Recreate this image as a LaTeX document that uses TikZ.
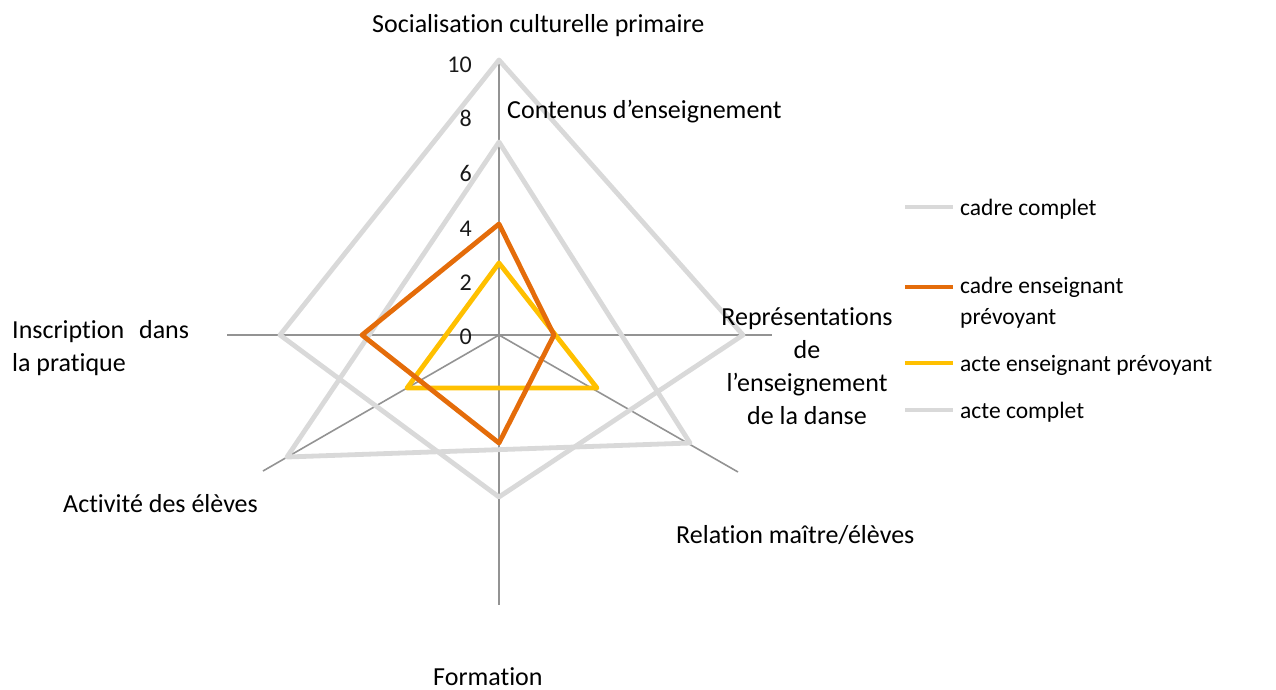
\documentclass[tikz,border=0pt]{standalone}
\usepackage{fontspec}
\setmainfont[Ligatures=NoCommon]{Carlito}
\definecolor{axisgray}{HTML}{939393}
\definecolor{palegray}{HTML}{D9D9D9}
\definecolor{cadreorange}{HTML}{E46C0A}
\definecolor{acteyellow}{HTML}{FFC000}
\begin{document}
\begin{tikzpicture}[x=1pt,y=-1pt,
  axe/.style={axisgray,line width=1.6pt},
  serie/.style={line width=4.8pt,line join=round},
  lab/.style={font=\fontsize{26}{33}\selectfont,inner sep=0pt},
  tick/.style={font=\fontsize{24}{28}\selectfont,inner sep=0pt,anchor=base east,text=black!90},
  leg/.style={font=\fontsize{23.5}{31}\selectfont,inner sep=0pt,align=left}]
\useasboundingbox (0,0) rectangle (1276,689);

\coordinate (c) at (499,335);
\coordinate (a1) at (499,58);
\coordinate (a2) at (772,335);
\coordinate (a3) at (738,472);
\coordinate (a4) at (499,605);
\coordinate (a5) at (263,471);
\coordinate (a6) at (227,335);
\draw[axe] (c) -- (a1);
\draw[axe] (c) -- (a2);
\draw[axe] (c) -- (a3);
\draw[axe] (c) -- (a4);
\draw[axe] (c) -- (a5);
\draw[axe] (c) -- (a6);

\draw[serie,palegray] (499,60) -- (743,335) -- (499,497) -- (280,335) -- cycle;
\draw[serie,palegray] (499,142) -- (690,443) -- (287,457) -- cycle;
\draw[serie,acteyellow] (499,263) -- (597,388) -- (407,388) -- cycle;
\draw[serie,cadreorange] (499,224) -- (554,335) -- (499,443) -- (362,335) -- cycle;

\node[tick] (t10) at (472,72) {10};
\node[tick] (t8) at (472,126) {8};
\node[tick] (t6) at (472,181) {6};
\node[tick] (t4) at (472,236) {4};
\node[tick] (t2) at (472,290) {2};
\node[tick] (t0) at (472,344) {0};

\node[lab,anchor=base west] (socialisation) at (372,32) {Socialisation culturelle primaire};
\node[lab,anchor=base west] (contenus) at (507,118) {Contenus d’enseignement};
\node[lab,anchor=north,align=center] (representations) at (807,307) {Représentations\\de\\l’enseignement\\de la danse};
\node[lab,anchor=north west,align=left] (inscription) at (12,320) {Inscription\hspace{15pt}dans\\la pratique};
\node[lab,anchor=base west] (activite) at (63,512) {Activité des élèves};
\node[lab,anchor=base west] (relation) at (676,543) {Relation maître/élèves};
\node[lab,anchor=base west] (formation) at (433,685) {Formation};

\coordinate (l1a) at (905,207);
\coordinate (l1b) at (953,207);
\coordinate (l2a) at (905,287);
\coordinate (l2b) at (953,287);
\coordinate (l3a) at (905,363);
\coordinate (l3b) at (953,363);
\coordinate (l4a) at (905,410);
\coordinate (l4b) at (953,410);
\draw[serie,palegray] (l1a) -- (l1b);
\draw[serie,cadreorange] (l2a) -- (l2b);
\draw[serie,acteyellow] (l3a) -- (l3b);
\draw[serie,palegray] (l4a) -- (l4b);
\node[leg,anchor=base west] (cadrecomplet) at (960,215) {cadre complet};
\node[leg,anchor=north west] (cadreens) at (960,277) {cadre enseignant\\prévoyant};
\node[leg,anchor=base west] (acteens) at (960,371) {acte enseignant prévoyant};
\node[leg,anchor=base west] (actecomplet) at (960,418) {acte complet};
\end{tikzpicture}
\end{document}
